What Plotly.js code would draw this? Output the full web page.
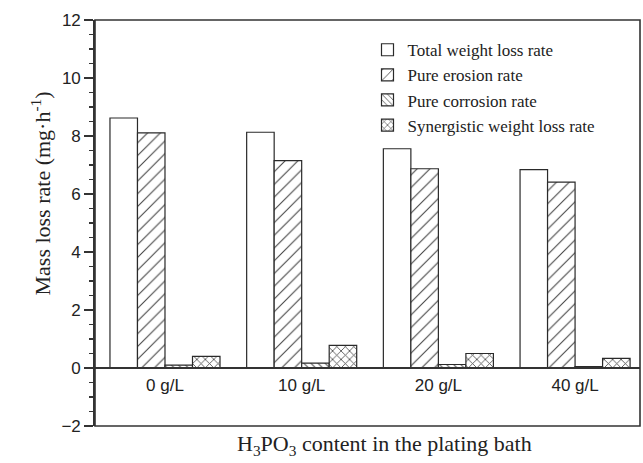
<!DOCTYPE html>
<html>
<head>
<meta charset="utf-8">
<script src="https://cdn.plot.ly/plotly-3.0.1.min.js"></script>
<style>
  html, body { margin: 0; padding: 0; background: #fff; }
  #chart { width: 643px; height: 463px; }
</style>
</head>
<body>
<div id="chart"></div>
<script>
// H3PO3 content groups
const categories = ['0 g/L', '10 g/L', '20 g/L', '40 g/L'];
const catIndex = [0, 1, 2, 3];

// Mass loss rates, mg·h⁻¹
const totalLoss = [8.62, 8.13, 7.56, 6.84];
const pureErosion = [8.11, 7.15, 6.87, 6.41];
const pureCorrosion = [0.10, 0.17, 0.12, 0.05];
const synergisticLoss = [0.40, 0.78, 0.50, 0.33];

const seriesNames = [
  'Total weight loss rate',
  'Pure erosion rate',
  'Pure corrosion rate',
  'Synergistic weight loss rate'
];

const edge = { color: '#2a2a2a', width: 1.2 };
const ink = '#444';

function barTrace(name, values, pattern) {
  return {
    type: 'bar',
    name: name,
    x: catIndex,
    y: values,
    marker: {
      color: '#ffffff',
      line: edge,
      pattern: pattern
    },
    hoverinfo: 'skip'
  };
}

const traces = [
  barTrace(seriesNames[0], totalLoss, { shape: '' }),
  barTrace(seriesNames[1], pureErosion, { shape: '/', size: 9, solidity: 0.12, fgcolor: ink, bgcolor: '#fff' }),
  barTrace(seriesNames[2], pureCorrosion, { shape: '\\', size: 5, solidity: 0.2, fgcolor: ink, bgcolor: '#fff' }),
  barTrace(seriesNames[3], synergisticLoss, { shape: 'x', size: 6, solidity: 0.25, fgcolor: ink, bgcolor: '#fff' })
];

const serif = 'Liberation Serif, Times New Roman, serif';
const sans = 'Liberation Sans, Arial, sans-serif';

const layout = {
  width: 643,
  height: 463,
  margin: { l: 95, r: 3, t: 20, b: 37 },
  paper_bgcolor: '#fff',
  plot_bgcolor: '#fff',
  barmode: 'group',
  bargap: 0.195,
  bargroupgap: 0,
  showlegend: true,
  legend: {
    x: 0.5, xanchor: 'left',
    y: 0.97, yanchor: 'top',
    bgcolor: 'rgba(0,0,0,0)',
    font: { family: serif, size: 17, color: '#222' },
    tracegroupgap: 0,
    itemwidth: 30
  },
  xaxis: {
    type: 'linear',
    range: [-0.512, 3.475],
    tickvals: catIndex,
    ticktext: categories,
    anchor: 'free',
    position: 2 / 14,
    showline: true,
    linecolor: '#333',
    linewidth: 2,
    ticks: '',
    ticklabelstandoff: 2,
    showgrid: false,
    zeroline: false,
    tickfont: { family: sans, size: 17, color: '#222' }
  },
  yaxis: {
    range: [-2, 12],
    dtick: 2,
    tick0: 0,
    ticks: 'outside',
    ticklen: 9,
    tickwidth: 1.3,
    tickcolor: '#333',
    minor: { dtick: 0.5, ticks: 'outside', ticklen: 4, tickwidth: 1.2, tickcolor: '#333' },
    showline: true,
    linecolor: '#333',
    linewidth: 1.8,
    showgrid: false,
    zeroline: false,
    tickfont: { family: sans, size: 17, color: '#222' }
  },
  shapes: [
    {
      type: 'rect', xref: 'paper', yref: 'paper',
      x0: 0, x1: 1, y0: 0, y1: 1,
      line: { color: '#333', width: 1.6 },
      layer: 'above'
    }
  ],
  annotations: [
    {
      text: 'Mass loss rate (mg·h<sup>-1</sup>)',
      xref: 'paper', yref: 'y',
      x: -0.1, y: 6,
      xanchor: 'center', yanchor: 'middle',
      textangle: -90,
      showarrow: false,
      font: { family: serif, size: 22, color: '#222' }
    },
    {
      text: 'H<sub>3</sub>PO<sub>3</sub> content in the plating bath',
      xref: 'paper', yref: 'paper',
      x: (384 - 95) / 545, y: -0.047,
      xanchor: 'center', yanchor: 'middle',
      showarrow: false,
      font: { family: serif, size: 22, color: '#222' }
    }
  ]
};

Plotly.newPlot('chart', traces, layout, { displayModeBar: false, staticPlot: true });
</script>
</body>
</html>
